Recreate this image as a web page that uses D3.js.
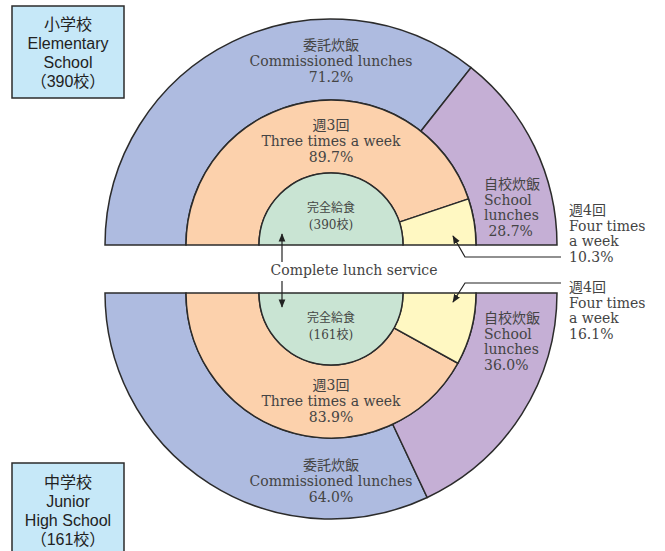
<!DOCTYPE html>
<html>
<head>
<meta charset="utf-8">
<script src="https://cdn.jsdelivr.net/npm/d3@7"></script>
<style>
  body { margin: 0; background: #fff; }
  svg text { font-family: "DejaVu Serif", "Noto Sans CJK JP", serif; fill: #444; }
  svg text.box { font-family: "Liberation Sans", "Noto Sans CJK JP", sans-serif; fill: #222; }
</style>
</head>
<body>
<div class="chart"></div>
<script>
const WIDTH = 665;
const HEIGHT = 551;

// data
var schoolTypeJa = ['小学校', '中学校'];
var schoolTypeEn = [['Elementary', 'School'], ['Junior', 'High School']];
var schoolCounts = [390, 161];

var outerJa = ['委託炊飯', '自校炊飯'];
var outerEn = ['Commissioned lunches', 'School lunches'];
var elemOuter = [71.2, 28.7];
var juniorOuter = [64.0, 36.0];

var middleJa = ['週3回', '週4回'];
var middleEn = ['Three times a week', 'Four times a week'];
var elemMiddle = [89.7, 10.3];
var juniorMiddle = [83.9, 16.1];

var centerJa = '完全給食';
var centerEn = 'Complete lunch service';

var outerColors = ['#aebbe0', '#c5afd5'];
var middleColors = ['#fcd1ac', '#fff8c2'];
var innerColor = '#c9e4d3';

const CX = 331;
const R_OUT = 226, R_MID = 145, R_IN = 72;

var svg = d3.select('.chart').append('svg')
    .attr('width', WIDTH)
    .attr('height', HEIGHT);

function pct(v) { return v.toFixed(1) + '%'; }

function drawHalf(cy, start, end, outerVals, middleVals) {
    var g = svg.append('g').attr('transform', 'translate(' + CX + ',' + cy + ')');
    var pie = d3.pie().sort(null).startAngle(start).endAngle(end);

    var outerArc = d3.arc().innerRadius(R_MID).outerRadius(R_OUT);
    var midArc = d3.arc().innerRadius(R_IN).outerRadius(R_MID);
    var inArc = d3.arc().innerRadius(0).outerRadius(R_IN);

    g.selectAll('path.outer').data(pie(outerVals)).enter().append('path')
        .attr('class', 'outer')
        .attr('d', outerArc)
        .attr('fill', function (d, i) { return outerColors[i]; })
        .attr('stroke', '#2b2b2b').attr('stroke-width', 1.5);

    g.selectAll('path.mid').data(pie(middleVals)).enter().append('path')
        .attr('class', 'mid')
        .attr('d', midArc)
        .attr('fill', function (d, i) { return middleColors[i]; })
        .attr('stroke', '#2b2b2b').attr('stroke-width', 1.5);

    g.append('path')
        .attr('d', inArc({startAngle: start, endAngle: end}))
        .attr('fill', innerColor)
        .attr('stroke', '#2b2b2b').attr('stroke-width', 1.5);
}

function lines(x, y, arr, anchor, step, size) {
    var t = svg.append('text')
        .attr('x', x).attr('y', y)
        .attr('text-anchor', anchor || 'middle')
        .attr('font-size', size || 14);
    arr.forEach(function (s, i) {
        t.append('tspan').attr('x', x).attr('dy', i === 0 ? 0 : (step || 16)).text(s);
    });
    return t;
}

// elementary: upper half, left -> over top -> right
drawHalf(245, -Math.PI / 2, Math.PI / 2, elemOuter, elemMiddle);
// junior high: lower half, left -> under bottom -> right
drawHalf(293, 3 * Math.PI / 2, Math.PI / 2, juniorOuter, juniorMiddle);

// labels - elementary
lines(331, 50, [outerJa[0], outerEn[0], pct(elemOuter[0])]);
lines(331, 130, [middleJa[0], middleEn[0].replace(' a week', '') + ' a week', pct(elemMiddle[0])]);
lines(331, 212, [centerJa, '(' + schoolCounts[0] + '校)'], 'middle', 17, 12);
lines(484, 189, [outerJa[1], 'School', 'lunches', ' ' + pct(elemOuter[1])], 'start', 15.5);
lines(569, 215, [middleJa[1], 'Four times', 'a week', pct(elemMiddle[1])], 'start', 15.5);

// labels - junior high
lines(331, 390, [middleJa[0], middleEn[0], pct(juniorMiddle[0])]);
lines(331, 470, [outerJa[0], outerEn[0], pct(juniorOuter[0])]);
lines(331, 322, [centerJa, '(' + schoolCounts[1] + '校)'], 'middle', 17, 12);
lines(484, 323, [outerJa[1], 'School', 'lunches', pct(juniorOuter[1])], 'start', 15.5);
lines(569, 292, [middleJa[1], 'Four times', 'a week', pct(juniorMiddle[1])], 'start', 15.5);

// center caption
svg.append('text').attr('x', 354).attr('y', 275)
    .attr('text-anchor', 'middle').attr('font-size', 14)
    .text(centerEn);

// arrows
var defs = svg.append('defs');
defs.append('marker').attr('id', 'ah')
    .attr('viewBox', '0 0 10 10').attr('refX', 9).attr('refY', 5)
    .attr('markerWidth', 7).attr('markerHeight', 7)
    .attr('orient', 'auto-start-reverse')
    .append('path').attr('d', 'M0,1 L10,5 L0,9 z').attr('fill', '#222');

function arrow(pts) {
    svg.append('path')
        .attr('d', d3.line()(pts))
        .attr('fill', 'none').attr('stroke', '#222').attr('stroke-width', 1.2)
        .attr('marker-end', 'url(#ah)');
}
arrow([[282, 262], [282, 234]]);
arrow([[282, 281], [282, 307]]);
arrow([[561, 257], [465, 257], [453, 236]]);
arrow([[561, 283], [465, 283], [453, 302]]);

// school type boxes
function box(y, h, ja, en, count, ty) {
    svg.append('rect').attr('x', 12).attr('y', y).attr('width', 112).attr('height', h)
        .attr('fill', '#c6e8f8').attr('stroke', '#2b2b2b').attr('stroke-width', 1.5);
    var t = svg.append('text').attr('class', 'box')
        .attr('x', 68).attr('y', ty).attr('text-anchor', 'middle').attr('font-size', 16);
    [ja].concat(en).concat(['（' + count + '校）']).forEach(function (s, i) {
        t.append('tspan').attr('x', 68).attr('dy', i === 0 ? 0 : 19).text(s);
    });
}
box(6, 92, schoolTypeJa[0], schoolTypeEn[0], schoolCounts[0], 30);
box(463, 100, schoolTypeJa[1], schoolTypeEn[1], schoolCounts[1], 488);
</script>
</body>
</html>
